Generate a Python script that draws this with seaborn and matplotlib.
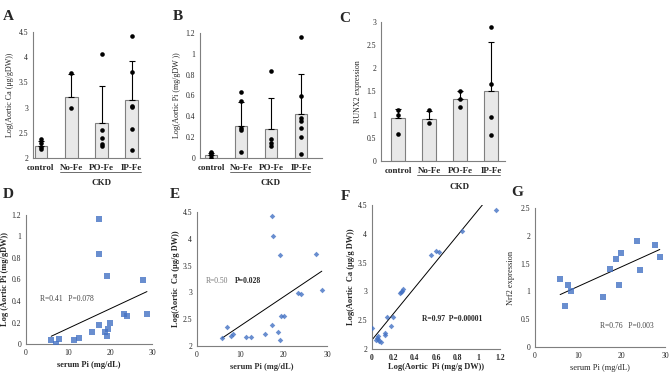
import numpy as np
import pandas as pd
import matplotlib
matplotlib.use("Agg")
import matplotlib.pyplot as plt
import seaborn as sns

sns.set_style("white")
plt.rcParams['font.family'] = ['Liberation Serif', 'DejaVu Serif']

W, H = 669, 373
groups = ["control", "No-Fe", "PO-Fe", "IP-Fe"]

# panel A: Log(Aortic Ca)
a_mean = [2.24, 3.22, 2.70, 3.16]
a_err = [0.10, 0.45, 0.73, 0.77]
a_dots = [[2.37, 2.30, 2.22, 2.17],
          [3.69, 2.99],
          [4.06, 2.56, 2.40, 2.28, 2.24],
          [4.42, 3.71, 3.04, 3.01, 2.57, 2.16]]

# panel B: Log(Aortic Pi)
b_mean = [0.03, 0.31, 0.28, 0.42]
b_err = [0.02, 0.23, 0.30, 0.39]
b_dots = [[0.06, 0.045, 0.03, 0.0],
          [0.63, 0.55, 0.29, 0.27, 0.06],
          [0.84, 0.18, 0.14, 0.12],
          [1.16, 0.60, 0.38, 0.36, 0.29, 0.20, 0.04]]

# panel C: RUNX2 expression
c_mean = [0.92, 0.90, 1.33, 1.52]
c_err = [0.20, 0.18, 0.18, 1.05]
c_dots = [[1.10, 0.99, 0.58],
          [1.10, 0.81],
          [1.51, 1.34, 1.16],
          [2.89, 1.67, 0.94, 0.56]]

# panel D: serum Pi vs Log(Aortic Pi)
d_x = [6.0, 7.1, 7.9, 11.4, 12.6, 15.8, 17.3, 17.5, 17.4, 18.8, 19.3, 19.5, 19.3, 20.0, 23.4, 24.1, 27.8, 28.8]
d_y = [0.04, 0.0, 0.05, 0.04, 0.06, 0.11, 1.16, 0.84, 0.18, 0.11, 0.07, 0.14, 0.63, 0.20, 0.28, 0.26, 0.60, 0.28]

# panel E: serum Pi vs Log(Aortic Ca)
e_x = [5.8, 7.0, 7.8, 8.4, 11.2, 12.5, 15.6, 17.3, 17.5, 17.3, 18.7, 19.2, 19.2, 19.3, 20.0, 23.3, 24.1, 27.5, 28.8]
e_y = [2.14, 2.35, 2.19, 2.22, 2.16, 2.16, 2.23, 4.43, 4.05, 2.39, 2.27, 2.12, 3.69, 2.56, 2.56, 2.98, 2.97, 3.71, 3.04]

# panel F: Log(Aortic Pi) vs Log(Aortic Ca)
f_x = [0.0, 0.04, 0.05, 0.06, 0.07, 0.06, 0.08, 0.12, 0.12, 0.14, 0.18, 0.20, 0.26, 0.27, 0.28, 0.29, 0.55, 0.60, 0.63, 0.84, 1.16]
f_y = [2.36, 2.16, 2.19, 2.17, 2.14, 2.22, 2.13, 2.27, 2.24, 2.56, 2.40, 2.56, 2.97, 2.99, 3.01, 3.04, 3.64, 3.70, 3.69, 4.05, 4.42]

# panel G: serum Pi vs Nrf2 expression
g_x = [5.8, 6.9, 7.7, 8.4, 15.6, 17.4, 18.8, 19.3, 19.9, 23.5, 24.2, 27.8, 28.8]
g_y = [1.22, 0.73, 1.11, 1.00, 0.90, 1.41, 1.59, 1.11, 1.69, 1.91, 1.39, 1.83, 1.61]

BLUE = "#4472C4"
GRAY = "#7f7f7f"


def box(l, t, r, b):
    return [l / W, 1 - b / H, (r - l) / W, (b - t) / H]


def style_axes(ax):
    sns.despine(ax=ax)
    for s in ["left", "bottom"]:
        ax.spines[s].set_color(GRAY)
        ax.spines[s].set_linewidth(0.8)
    ax.tick_params(axis="both", length=2, width=0.6, color=GRAY, labelsize=5.5, pad=1.5)


def bar_panel(ax, means, errs, dots, ylim, yticks, ylabel, xlim, width, ckd_y):
    df = pd.DataFrame({"group": groups, "mean": means})
    sns.barplot(data=df, x="group", y="mean", order=groups, color="#e8e8e8",
                edgecolor=GRAY, linewidth=0.8, width=width, ax=ax)
    ax.errorbar(range(len(groups)), means, yerr=[np.zeros(len(errs)), errs], fmt="none",
                ecolor="black", elinewidth=0.8, capsize=2, capthick=0.8, zorder=3)
    long = pd.DataFrame([(g, v) for g, vals in zip(groups, dots) for v in vals], columns=["group", "val"])
    sns.stripplot(data=long, x="group", y="val", order=groups, jitter=False, color="black",
                  size=3.3, ax=ax, zorder=4)
    style_axes(ax)
    ax.set_ylim(*ylim)
    ax.set_yticks(yticks)
    ax.set_yticklabels([f"{t:g}" for t in yticks])
    ax.set_xlim(*xlim)
    ax.set_xlabel("")
    ax.set_ylabel(ylabel, fontsize=5.8, labelpad=3)
    ax.tick_params(axis="x", length=0, labelsize=6.5, pad=4)
    for lab in ax.get_xticklabels():
        lab.set_fontweight("bold")
    tr = ax.get_xaxis_transform()
    ax.plot([0.62, 3.3], [ckd_y, ckd_y], transform=tr, color="#555555", lw=0.6, clip_on=False)
    ax.text(2, ckd_y - 0.09, "CKD", transform=tr, ha="center", va="center",
            fontsize=6.5, fontweight="bold")


def scatter_panel(ax, x, y, marker, msize, xlim, ylim, xticks, yticks):
    sns.regplot(x=np.array(x), y=np.array(y), ci=None, truncate=True, ax=ax, marker=marker,
                scatter_kws=dict(s=msize, color=BLUE, linewidths=0, zorder=3),
                line_kws=dict(color="black", lw=0.7, zorder=2))
    style_axes(ax)
    ax.set_xlim(*xlim)
    ax.set_ylim(*ylim)
    ax.set_xticks(xticks)
    ax.set_xticklabels([f"{t:g}" for t in xticks])
    ax.set_yticks(yticks)
    ax.set_yticklabels([f"{t:g}" for t in yticks])


fig = plt.figure(figsize=(W / 100, H / 100), dpi=100)

axA = fig.add_axes(box(33, 32, 140, 158))
bar_panel(axA, a_mean, a_err, a_dots, (2, 4.5), [2, 2.5, 3, 3.5, 4, 4.5],
          "Log(Aortic Ca (μg/gDW))", (-0.26, 3.27), 0.42, -0.11)

axB = fig.add_axes(box(200, 33, 322, 158))
bar_panel(axB, b_mean, b_err, b_dots, (0, 1.2), [0, 0.2, 0.4, 0.6, 0.8, 1, 1.2],
          "Log(Aortic Pi (mg/gDW ))", (-0.37, 3.7), 0.4, -0.11)

axC = fig.add_axes(box(381, 22, 505, 161))
bar_panel(axC, c_mean, c_err, c_dots, (0, 3), [0, 0.5, 1, 1.5, 2, 2.5, 3],
          "RUNX2 expression", (-0.55, 3.45), 0.44, -0.10)

sk = [0, 10, 20, 30]
axD = fig.add_axes(box(26, 215, 152, 344))
scatter_panel(axD, d_x, d_y, "s", 14, (0, 30), (0, 1.2), sk, [0, 0.2, 0.4, 0.6, 0.8, 1, 1.2])
axD.set_ylabel("Log (Aortic Pi (mg/gDW))", fontsize=6, fontweight="bold", labelpad=2)
axD.set_xlabel("serum Pi (mg/dL)", fontsize=6, fontweight="bold", labelpad=3)
axD.text(3.3, 0.42, "R=0.41   P=0.078", fontsize=5.5, color="#444444", va="center")

axE = fig.add_axes(box(197, 212, 327, 346))
scatter_panel(axE, e_x, e_y, "D", 8, (0, 30), (2, 4.5), sk, [2, 2.5, 3, 3.5, 4, 4.5])
axE.set_ylabel("Log(Aortic  Ca (μg/g DW))", fontsize=6, fontweight="bold", labelpad=2)
axE.set_xlabel("serum Pi (mg/dL)", fontsize=6, fontweight="bold", color="#333333", labelpad=3)
axE.text(2, 3.22, "R=0.50", fontsize=5.5, color="#777777", va="center")
axE.text(8.8, 3.22, "P=0.028", fontsize=5.5, fontweight="bold", va="center")

axF = fig.add_axes(box(372, 205, 500, 349))
scatter_panel(axF, f_x, f_y, "D", 8, (0, 1.2), (2, 4.5), [0, 0.2, 0.4, 0.6, 0.8, 1, 1.2],
              [2, 2.5, 3, 3.5, 4, 4.5])
for lab in axF.get_xticklabels():
    lab.set_fontweight("bold")
axF.set_ylabel("Log(Aortic  Ca (μg/g DW))", fontsize=6, fontweight="bold", labelpad=2)
axF.set_xlabel("Log(Aortic  Pi (mg/g DW))", fontsize=6, fontweight="bold", labelpad=1)
axF.text(0.47, 2.52, "R=0.97  P=0.00001", fontsize=5.5, fontweight="bold", va="center")

axG = fig.add_axes(box(535, 208, 665, 347))
scatter_panel(axG, g_x, g_y, "s", 14, (0, 30), (0, 2.5), sk, [0, 0.5, 1, 1.5, 2, 2.5])
axG.set_ylabel("Nrf2 expression", fontsize=6, labelpad=4)
axG.set_xlabel("serum Pi (mg/dL)", fontsize=6, labelpad=3)
axG.text(15, 0.38, "R=0.76   P=0.003", fontsize=5.5, color="#444444", va="center")

for lbl, x, y in [("A", 8, 17), ("B", 178, 17), ("C", 345, 19), ("D", 8, 195),
                  ("E", 175, 195), ("F", 345, 196), ("G", 517, 193)]:
    fig.text(x / W, 1 - y / H, lbl, fontsize=11, fontweight="bold", ha="center", va="center")

fig.savefig("out.png", dpi=100)
